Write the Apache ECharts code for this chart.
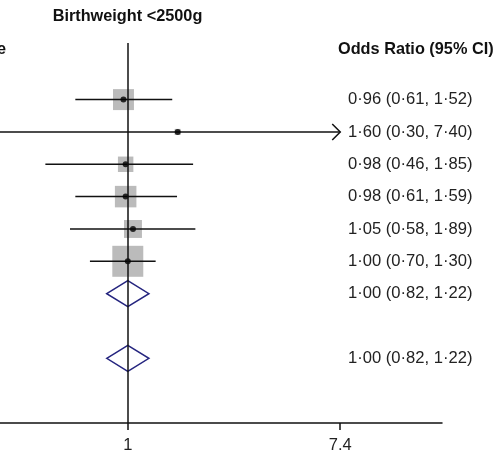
<!DOCTYPE html>
<html>
<head>
<meta charset="utf-8">
<script src="https://cdn.jsdelivr.net/npm/echarts@6/dist/echarts.min.js"></script>
<style>html,body{margin:0;padding:0;background:#fff}#c{width:496px;height:466px}</style>
</head>
<body>
<div id="c"></div>
<script>
// Study rows (y position index from top)
var studyRows = [1, 2, 3, 4, 5, 6];
var studyOR = [0.96, 1.60, 0.98, 0.98, 1.05, 1.00];
var studyLower = [0.61, 0.30, 0.46, 0.61, 0.58, 0.70];
var studyUpper = [1.52, 7.40, 1.85, 1.59, 1.89, 1.30];
var studyWeight = [17.9, 1.5, 9.7, 18.8, 13.1, 39.0];
// Pooled estimates (diamonds)
var pooledRows = [7, 9];
var pooledOR = [1.00, 1.00];
var pooledLower = [0.82, 0.82];
var pooledUpper = [1.22, 1.22];
// Axis
var xTicks = [1, 7.4];
var xMin = 0.3, xMax = 19.3;
var titleText = 'Birthweight <2500g';
var colHeader = 'Odds Ratio (95% CI)';

function fmt(v){ return v.toFixed(2).replace('.', '\u00B7'); }
function ciText(o,l,u){ return fmt(o) + ' (' + fmt(l) + ', ' + fmt(u) + ')'; }

var ciData = studyRows.map(function(r,i){ return [studyLower[i], studyUpper[i], r, studyUpper[i] >= 7.4 ? 1 : 0]; });
var sqData = studyRows.map(function(r,i){ return [studyOR[i], r, studyWeight[i]]; });
var dotData = studyRows.map(function(r,i){ return [studyOR[i], r]; });
var dmData = pooledRows.map(function(r,i){ return [pooledOR[i], r, pooledLower[i], pooledUpper[i]]; });
var txtData = studyRows.map(function(r,i){ return [1, r, ciText(studyOR[i], studyLower[i], studyUpper[i])]; })
  .concat(pooledRows.map(function(r,i){ return [1, r, ciText(pooledOR[i], pooledLower[i], pooledUpper[i])]; }));

var chart = echarts.init(document.getElementById('c'), null, {renderer:'canvas'});
var FONT = 'Liberation Sans, Arial, sans-serif';
chart.setOption({
  animation: false,
  backgroundColor: '#ffffff',
  grid: { left: 0, right: 54, top: 43, bottom: 43, containLabel: false },
  xAxis: {
    type: 'log', logBase: Math.E, min: xMin, max: xMax, position: 'bottom',
    splitLine: { show: false },
    axisLine: { show: true, onZero: false, lineStyle: { color: '#111', width: 1.5 } },
    axisTick: { show: true, customValues: xTicks, length: 7, lineStyle: { color: '#111', width: 1.5 } },
    axisLabel: { show: true, customValues: xTicks, margin: 14, fontSize: 16.5, color: '#222', fontFamily: FONT,
      formatter: function(v){ return String(Math.round(v*10)/10); } }
  },
  yAxis: {
    type: 'value', inverse: true, min: -0.75, max: 11,
    show: false, splitLine: { show: false }
  },
  graphic: [
    { type: 'text', x: 127.5, y: 17, style: { text: titleText, font: 'bold 16.3px ' + FONT, fill: '#111', align: 'center', verticalAlign: 'middle' } },
    { type: 'text', x: 338, y: 50, style: { text: colHeader, font: 'bold 16.3px ' + FONT, fill: '#111', align: 'left', verticalAlign: 'middle' } },
    { type: 'text', x: -3, y: 50, style: { text: 'e', font: 'bold 16.3px ' + FONT, fill: '#111', align: 'left', verticalAlign: 'middle' } }
  ],
  series: [
    {
      type: 'custom', name: 'squares', clip: true, z: 2,
      data: sqData,
      renderItem: function(params, api){
        var p = api.coord([api.value(0), api.value(1)]);
        var s = 4.96 * Math.sqrt(api.value(2));
        return { type: 'rect', shape: { x: p[0]-s/2, y: p[1]-s/2, width: s, height: s }, style: { fill: '#bbbbbb' } };
      },
      markLine: {
        silent: true, symbol: 'none', label: { show: false },
        lineStyle: { color: '#111', width: 1.5, type: 'solid' },
        data: [{ xAxis: 1 }]
      }
    },
    {
      type: 'custom', name: 'ci', clip: true, z: 3,
      data: ciData,
      renderItem: function(params, api){
        var a = api.coord([api.value(0), api.value(2)]);
        var b = api.coord([api.value(1), api.value(2)]);
        var children = [{ type: 'line', shape: { x1: a[0], y1: a[1], x2: b[0], y2: b[1] }, style: { stroke: '#111', lineWidth: 1.5 } }];
        if (api.value(3) === 1) {
          children.push({ type: 'polyline', shape: { points: [[b[0]-8, b[1]-8], [b[0], b[1]], [b[0]-8, b[1]+8]] }, style: { stroke: '#111', lineWidth: 1.5, fill: null } });
        }
        return { type: 'group', children: children };
      }
    },
    {
      type: 'scatter', name: 'dots', z: 4, symbol: 'circle', symbolSize: 6,
      itemStyle: { color: '#000' }, data: dotData
    },
    {
      type: 'custom', name: 'diamonds', clip: true, z: 3,
      data: dmData,
      renderItem: function(params, api){
        var c = api.coord([api.value(0), api.value(1)]);
        var l = api.coord([api.value(2), api.value(1)]);
        var r = api.coord([api.value(3), api.value(1)]);
        var h = 13;
        return { type: 'polygon', shape: { points: [[l[0], c[1]], [c[0], c[1]-h], [r[0], c[1]], [c[0], c[1]+h]] },
          style: { stroke: '#25257f', lineWidth: 1.5, fill: 'rgba(255,255,255,0)' } };
      }
    },
    {
      type: 'custom', name: 'labels', clip: false, z: 5,
      data: txtData,
      renderItem: function(params, api){
        var p = api.coord([api.value(0), api.value(1)]);
        return { type: 'text', x: 348, y: p[1], style: { text: txtData[params.dataIndex][2], font: '16.6px ' + FONT, fill: '#222', align: 'left', verticalAlign: 'middle' } };
      }
    }
  ]
});
</script>
</body>
</html>
